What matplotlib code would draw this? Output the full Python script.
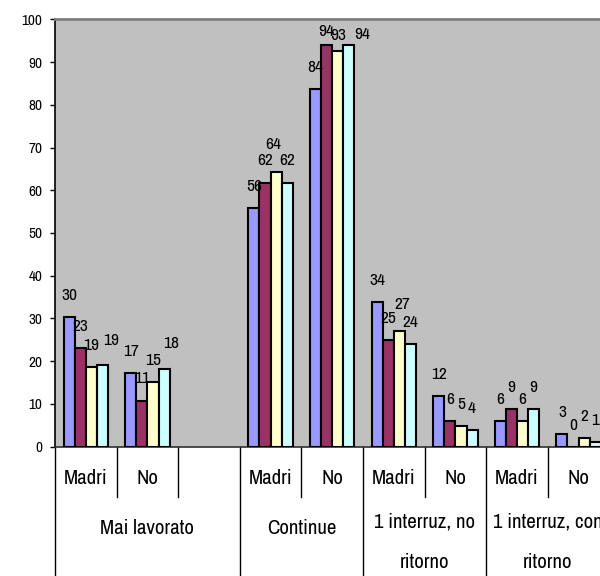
import matplotlib
matplotlib.use("Agg")
import matplotlib.pyplot as plt
from matplotlib import font_manager
from matplotlib.transforms import blended_transform_factory

# ---- data -------------------------------------------------------------
groups = ["Mai lavorato", "Continue", "1 interruz, no\nritorno", "1 interruz, con\nritorno"]
subgroups = [["Madri", "No", ""], ["Madri", "No"], ["Madri", "No"], ["Madri", "No"]]

series_a = [30.4, 17.2, None, 55.8, 83.7, 33.8, 11.9, 5.9, 3.0]
series_b = [23.0, 10.8, None, 61.8, 94.0, 25.0, 5.9, 8.8, 0.0]
series_c = [18.6, 15.2, None, 64.2, 92.6, 27.1, 4.9, 5.9, 2.0]
series_d = [19.1, 18.2, None, 61.8, 94.0, 24.0, 3.9, 8.8, 1.0]

yticks = [0, 10, 20, 30, 40, 50, 60, 70, 80, 90, 100]

# ---- style ------------------------------------------------------------
colors = ["#9999FF", "#993366", "#FFFFCC", "#CCFFFF"]
available = {f.name for f in font_manager.fontManager.ttflist}
family = "Liberation Sans"
for cand in ["Liberation Sans Narrow", "Arial Narrow", "Archivo Narrow",
             "Roboto Condensed", "PT Sans Narrow", "Open Sans Condensed"]:
    if cand in available:
        family = cand
        break
plt.rcParams["font.family"] = [family, "DejaVu Sans"]

W, H = 600, 576
fig = plt.figure(figsize=(W / 100, H / 100), dpi=100)
fig.patch.set_facecolor("white")

# plot area in pixel terms
left_px, top_px, bottom_px = 55, 19.3, 446.7
slot_px = 61.6
n_slots = sum(len(s) for s in subgroups)
ax = fig.add_axes([left_px / W, (H - bottom_px) / H,
                   n_slots * slot_px / W, (bottom_px - top_px) / H])
ax.set_facecolor("#C0C0C0")
ax.set_xlim(0, n_slots)
ax.set_ylim(0, 100)

all_series = [series_a, series_b, series_c, series_d]
bar_w = 0.181
group_off = (1 - 4 * bar_w) / 2

# small per-label nudges (pixels) for readability
label_shift = {(0, 3): (9, 2.6), (1, 3): (7, 4), (3, 2): (-2.5, 6),
               (4, 1): (0, -8.7), (4, 2): (0, -6.7), (4, 3): (13, -11.3),
               (5, 2): (3, 4.3)}

for j, vals in enumerate(all_series):
    xs = [i + group_off + bar_w * (j + 0.5) for i, v in enumerate(vals) if v is not None]
    hs = [v for v in vals if v is not None]
    idx = [i for i, v in enumerate(vals) if v is not None]
    ax.bar(xs, hs, width=bar_w, color=colors[j], edgecolor="black",
           linewidth=1.5, zorder=3)
    for x, h, i in zip(xs, hs, idx):
        dx, dy = label_shift.get((i, j), (0, 0))
        ax.annotate(f"{round(h):d}", (x, h), xytext=(dx, 21.7 + dy),
                    textcoords="offset pixels", ha="center", va="center",
                    fontsize=12.5, color="black", zorder=4,
                    annotation_clip=False)

# axes frame
ax.spines["right"].set_visible(False)
ax.spines["top"].set_color("#808080")
ax.spines["top"].set_linewidth(2)
ax.spines["left"].set_color("black")
ax.spines["left"].set_linewidth(1.2)
ax.spines["bottom"].set_color("#303030")
ax.spines["bottom"].set_linewidth(1.2)

ax.set_yticks(yticks)
ax.set_yticklabels([str(t) for t in yticks], fontsize=11)
ax.tick_params(axis="y", direction="out", length=3.6, width=1, pad=5.6)
ax.set_xticks([])

# ---- multi-level category axis below the plot --------------------------
tr = blended_transform_factory(ax.transData, fig.transFigure)

def fy(py):
    return (H - py) / H

slot = 0
for g, subs in zip(groups, subgroups):
    start = slot
    ax.plot([start, start], [fy(bottom_px), fy(H)], transform=tr,
            color="black", lw=1, clip_on=False)
    for k, s in enumerate(subs):
        if k > 0:
            ax.plot([slot, slot], [fy(bottom_px), fy(497)], transform=tr,
                    color="black", lw=1, clip_on=False)
        if s:
            ax.text(slot + 0.5, fy(479), s, transform=tr, ha="center",
                    va="center", fontsize=15, clip_on=False)
        slot += 1
    mid = (start + slot) / 2
    lines = g.split("\n")
    if len(lines) == 1:
        ax.text(mid, fy(529), lines[0], transform=tr, ha="center",
                va="center", fontsize=15, clip_on=False)
    else:
        for li, t in enumerate(lines):
            ax.text(mid, fy(522 + 41 * li), t, transform=tr, ha="center",
                    va="center", fontsize=15, clip_on=False)
ax.plot([slot, slot], [fy(bottom_px), fy(H)], transform=tr,
        color="black", lw=1, clip_on=False)

fig.savefig("out.png", dpi=100)
